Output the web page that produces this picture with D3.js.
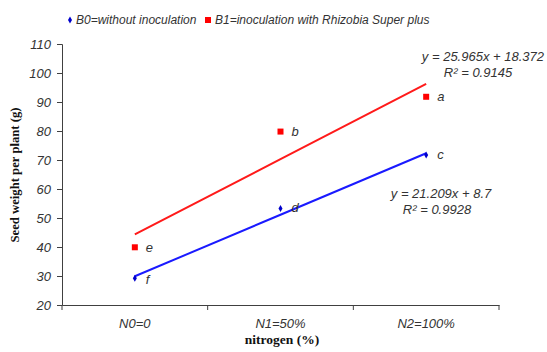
<!DOCTYPE html>
<html><head><meta charset="utf-8">
<script src="https://cdn.jsdelivr.net/npm/d3@7"></script>
<style>body{margin:0;background:#fff}svg{display:block}</style>
</head><body>
<svg id="c" width="547" height="352"></svg>
<script>
const categories = ["N0=0", "N1=50%", "N2=100%"];
const b0Values = [29.2, 53.3, 71.7];
const b1Values = [39.9, 79.8, 91.8];
const b0Letters = ["f", "d", "c"];
const b1Letters = ["e", "b", "a"];
const b0Fit = {slope: 21.209, intercept: 8.7, r2: "0.9928", text: "y = 21.209x  + 8.7"};
const b1Fit = {slope: 25.965, intercept: 18.372, r2: "0.9145", text: "y = 25.965x  + 18.372"};
const yTicks = [20, 30, 40, 50, 60, 70, 80, 90, 100, 110];
const seriesNames = ["B0=without inoculation", "B1=inoculation with Rhizobia Super plus"];

const svg = d3.select("#c");
const L = 62, R = 499, T = 44, B = 305;
const axisColor = "#404040";
const textColor = "#333";
const font = "Liberation Sans, Arial, sans-serif";

const x = d3.scaleBand().domain(categories).range([L, R]).padding(0);
const y = d3.scaleLinear().domain([20, 110]).range([B, T]);
const xc = d => x(d) + x.bandwidth() / 2;

// Y axis
const ya = svg.append("g").attr("transform", `translate(${L},0)`)
  .call(d3.axisLeft(y).tickValues(yTicks).tickSize(5).tickPadding(6).tickFormat(d3.format("d")));
ya.select(".domain").attr("stroke", axisColor);
ya.selectAll(".tick line").attr("stroke", axisColor);
ya.selectAll(".tick text").attr("fill", textColor).attr("font-family", font).attr("font-size", 13).attr("font-style", "italic");

// X axis
const xa = svg.append("g").attr("transform", `translate(0,${B})`)
  .call(d3.axisBottom(x).tickSize(0).tickPadding(14));
xa.select(".domain").attr("stroke", axisColor);
xa.selectAll(".tick text").attr("fill", textColor).attr("font-family", font).attr("font-size", 13).attr("font-style", "italic");
const bounds = categories.map(c => x(c)).concat([x(categories[categories.length - 1]) + x.bandwidth()]);
xa.selectAll(".sep").data(bounds).enter().append("line")
  .attr("x1", d => d).attr("x2", d => d).attr("y1", 0).attr("y2", 5).attr("stroke", axisColor);

// Trend lines
function fitLine(fit, color) {
  const pts = categories.map((c, i) => [xc(c), y(fit.slope * (i + 1) + fit.intercept)]);
  svg.append("path").attr("d", d3.line()(pts)).attr("fill", "none").attr("stroke", color).attr("stroke-width", 2);
}
fitLine(b1Fit, "#ff1a1a");
fitLine(b0Fit, "#1a1aff");

// Points
svg.selectAll(".b0").data(b0Values).enter().append("path")
  .attr("d", d3.symbol(d3.symbolDiamond, 14)())
  .attr("transform", (d, i) => `translate(${xc(categories[i])},${y(d)})`).attr("fill", "#0000cc");
svg.selectAll(".b1").data(b1Values).enter().append("rect")
  .attr("x", (d, i) => xc(categories[i]) - 3).attr("y", d => y(d) - 3)
  .attr("width", 6).attr("height", 6).attr("fill", "#ff0000");

// Letters
function letters(vals, labs, dy) {
  svg.selectAll(null).data(vals).enter().append("text")
    .attr("x", (d, i) => xc(categories[i]) + 11).attr("y", (d, i) => y(d) + dy[i])
    .text((d, i) => labs[i]).attr("font-family", font).attr("font-size", 13)
    .attr("font-style", "italic").attr("fill", textColor);
}
letters(b0Values, b0Letters, [6, 4, 4]);
letters(b1Values, b1Letters, [5, 4, 4]);

// Equations
function eq(lines, xPos, yPos, anchor) {
  lines.forEach((t, i) => svg.append("text").attr("x", xPos).attr("y", yPos + i * 17)
    .attr("text-anchor", anchor).text(t).attr("font-family", font).attr("font-size", 13)
    .attr("font-style", "italic").attr("fill", textColor));
}
eq([b1Fit.text], 544, 61, "end");
eq(["R² = " + b1Fit.r2], 478, 77, "middle");
eq([b0Fit.text], 441, 198, "middle");
eq(["R² = " + b0Fit.r2], 437, 214, "middle");

// Legend
const lg = svg.append("g").attr("font-family", font).attr("font-size", 12).attr("font-style", "italic").attr("fill", textColor);
lg.append("path").attr("d", d3.symbol(d3.symbolDiamond, 14)()).attr("transform", "translate(70,20)").attr("fill", "#0000cc");
lg.append("text").attr("x", 76).attr("y", 24).text(seriesNames[0]);
lg.append("rect").attr("x", 205).attr("y", 17).attr("width", 6).attr("height", 6).attr("fill", "#ff0000");
lg.append("text").attr("x", 215).attr("y", 24).text(seriesNames[1]);

// Axis titles
svg.append("text").attr("transform", "translate(19,175) rotate(-90)").attr("text-anchor", "middle")
  .attr("font-family", "Liberation Serif, Times New Roman, serif").attr("font-weight", "bold").attr("font-size", 12.7)
  .attr("fill", "#111").text("Seed weight per plant (g)");
svg.append("text").attr("x", 282).attr("y", 344).attr("text-anchor", "middle")
  .attr("font-family", "Liberation Serif, Times New Roman, serif").attr("font-weight", "bold").attr("font-size", 13.5)
  .attr("fill", "#111").text("nitrogen (%)");
</script>
</body></html>
